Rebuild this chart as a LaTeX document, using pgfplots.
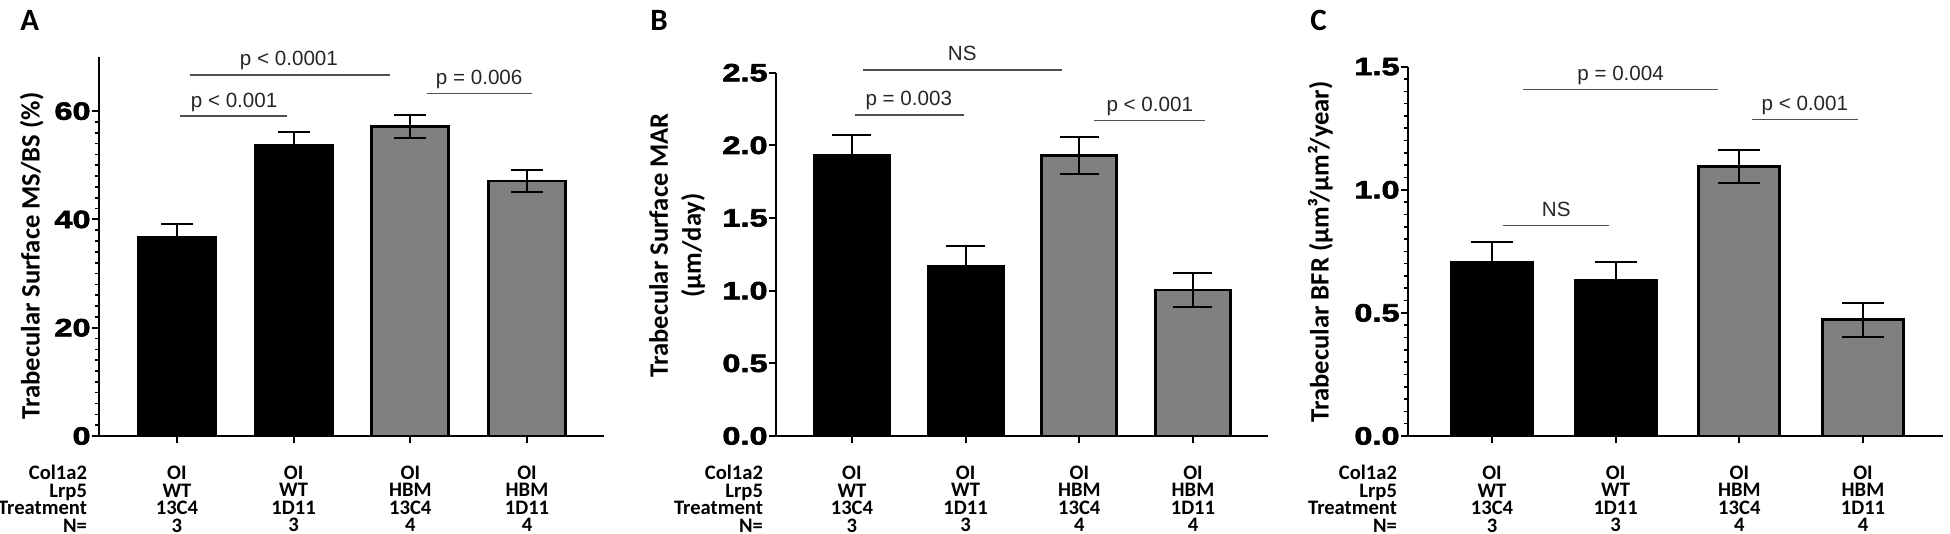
\documentclass[border=0pt]{standalone}
\usepackage{fontspec}
\setmainfont{Liberation Sans}
\newfontfamily\carlito{Carlito}
\newfontfamily\tickfam[FakeStretch=1.3,FakeBold=2.5]{Liberation Sans}
\usepackage{pgfplots}
\pgfplotsset{compat=1.18}

\definecolor{bargray}{RGB}{128,128,128}
\definecolor{siggray}{RGB}{80,80,80}

\newcommand\catfont{\carlito\bfseries\fontsize{10.3}{8.7}\selectfont\lineskiplimit=-100pt\lineskip=0pt}
\newcommand\tickfont{\tickfam\bfseries\fontsize{12.5}{14}\selectfont}
\newcommand\labfont{\carlito\bfseries\fontsize{13.3}{16.5}\selectfont}
\newcommand\pfont{\fontsize{10.3}{12}\selectfont}
\newcommand\letterfont{\carlito\bfseries\fontsize{15.5}{17}\selectfont}
\newcommand\fs{\rule{0pt}{7pt}}
\newcommand\firstlab[1]{\fs\llap{Col1a2\hspace{#1}}\makebox[0pt]{OI}\\\llap{Lrp5\hspace{#1}}\makebox[0pt]{WT}\\\llap{Treatment\hspace{#1}}\makebox[0pt]{13C4}\\\llap{N=\hspace{#1}}\makebox[0pt]{3}}

\tikzset{
  sig/.style={line width=0.75pt, siggray},
  ptext/.style={anchor=base, yshift=4.5pt, font=\pfont, text=black!85, inner sep=0pt},
}

\pgfplotsset{
  panel/.style={
    scale only axis, anchor=south west,
    axis x line*=bottom, axis y line*=left,
    axis line style={line width=1pt, black},
    tick style={line width=1pt, black},
    minor tick style={line width=0.8pt},
    major tick length=3.5pt, minor tick length=2pt,
    tick align=outside,
    ymin=0, xmin=-0.668, xmax=3.66,
    xtick={0,1,2,3},
    xticklabels={{\firstlab{#1}},{\fs OI\\WT\\1D11\\3},{\fs OI\\HBM\\13C4\\4},{\fs OI\\HBM\\1D11\\4}},
    xticklabel style={font=\catfont, align=center, anchor=north, inner sep=0pt, yshift=-11pt},
    yticklabel style={font=\tickfont, inner xsep=0.5pt},
    /pgf/number format/assume math mode=true,
    ylabel style={font=\labfont, align=center},
    ybar, bar shift=0pt,
    clip=false,
  },
  blackbar/.style={fill=black, draw=black, line width=1.4pt,
    error bars/.cd, y dir=both, y explicit,
    error bar style={line width=1pt, black},
    error mark options={rotate=90, line width=1pt, black, mark size=#1}},
  graybar/.style={fill=bargray, draw=black, line width=1.4pt,
    error bars/.cd, y dir=both, y explicit,
    error bar style={line width=1pt, black},
    error mark options={rotate=90, line width=1pt, black, mark size=#1}},
}

\begin{document}
\begin{tikzpicture}
\path[use as bounding box] (0,0) rectangle (975pt,-267pt);

% ---------------- Panel A ----------------
\node[anchor=north west, inner sep=0pt, font=\letterfont] at (10pt,-5pt) {A};
\begin{axis}[panel=45pt, at={(49.5pt,-218pt)}, width=252.5pt, height=189.5pt,
  ymax=70, ytick={0,20,40,60}, minor y tick num=9,
  bar width=0.66,
  ylabel={Trabecular Surface MS/BS (\%)},
  ylabel style={at={(axis description cs:-0.133,0.475)}, anchor=center},
]
\addplot[blackbar=8pt] coordinates {(0,36.6) +- (0,2.5) (1,53.7) +- (0,2.4)};
\addplot[graybar=8pt] coordinates {(2,57.1) +- (0,2.1) (3,47.1) +- (0,2.1)};
\draw[sig] (axis cs:0.03,59.1) -- (axis cs:0.94,59.1);
\node[ptext] at (axis cs:0.49,59.1) {p < 0.001};
\draw[sig] (axis cs:0.11,66.7) -- (axis cs:1.83,66.7);
\node[ptext] at (axis cs:0.96,66.7) {p < 0.0001};
\draw[sig] (axis cs:2.14,63.3) -- (axis cs:3.04,63.3);
\node[ptext] at (axis cs:2.59,63.3) {p = 0.006};
\end{axis}

% ---------------- Panel B ----------------
\node[anchor=north west, inner sep=0pt, font=\letterfont] at (325pt,-5pt) {B};
\begin{axis}[panel=44.5pt, at={(388pt,-218pt)}, width=246pt, height=181.65pt,
  ymax=2.5, ytick={0,0.5,1,1.5,2,2.5},
  yticklabel style={/pgf/number format/.cd, fixed, fixed zerofill, precision=1},
  bar width=0.66,
  ylabel={Trabecular Surface MAR\\(µm/day)},
  ylabel style={at={(axis description cs:-0.201,0.525)}, anchor=center},
]
\addplot[blackbar=9.75pt] coordinates {(0,1.93) +- (0,0.14) (1,1.17) +- (0,0.14)};
\addplot[graybar=9.75pt] coordinates {(2,1.93) +- (0,0.125) (3,1.005) +- (0,0.12)};
\draw[sig] (axis cs:0.10,2.52) -- (axis cs:1.85,2.52);
\node[ptext] at (axis cs:0.97,2.52) {NS};
\draw[sig] (axis cs:0.03,2.21) -- (axis cs:0.99,2.21);
\node[ptext] at (axis cs:0.50,2.21) {p = 0.003};
\draw[sig] (axis cs:2.13,2.17) -- (axis cs:3.11,2.17);
\node[ptext] at (axis cs:2.62,2.17) {p < 0.001};
\end{axis}

% ---------------- Panel C ----------------
\node[anchor=north west, inner sep=0pt, font=\letterfont] at (655pt,-5pt) {C};
\begin{axis}[panel=47.5pt, at={(704pt,-218pt)}, width=267.5pt, height=184.65pt,
  xmin=-0.679, xmax=3.647,
  ymax=1.5, ytick={0,0.5,1,1.5}, minor y tick num=9,
  yticklabel style={/pgf/number format/.cd, fixed, fixed zerofill, precision=1},
  bar width=0.655,
  ylabel={Trabecular BFR (µm³/µm²/year)},
  ylabel style={at={(axis description cs:-0.164,0.499)}, anchor=center},
]
\addplot[blackbar=10.5pt] coordinates {(0,0.707) +- (0,0.081) (1,0.630) +- (0,0.078)};
\addplot[graybar=10.5pt] coordinates {(2,1.094) +- (0,0.068) (3,0.472) +- (0,0.068)};
\draw[sig] (axis cs:0.25,1.407) -- (axis cs:1.83,1.407);
\node[ptext] at (axis cs:1.04,1.407) {p = 0.004};
\draw[sig] (axis cs:0.09,0.855) -- (axis cs:0.95,0.855);
\node[ptext] at (axis cs:0.52,0.855) {NS};
\draw[sig] (axis cs:2.10,1.285) -- (axis cs:2.96,1.285);
\node[ptext] at (axis cs:2.53,1.285) {p < 0.001};
\end{axis}
\end{tikzpicture}
\end{document}
